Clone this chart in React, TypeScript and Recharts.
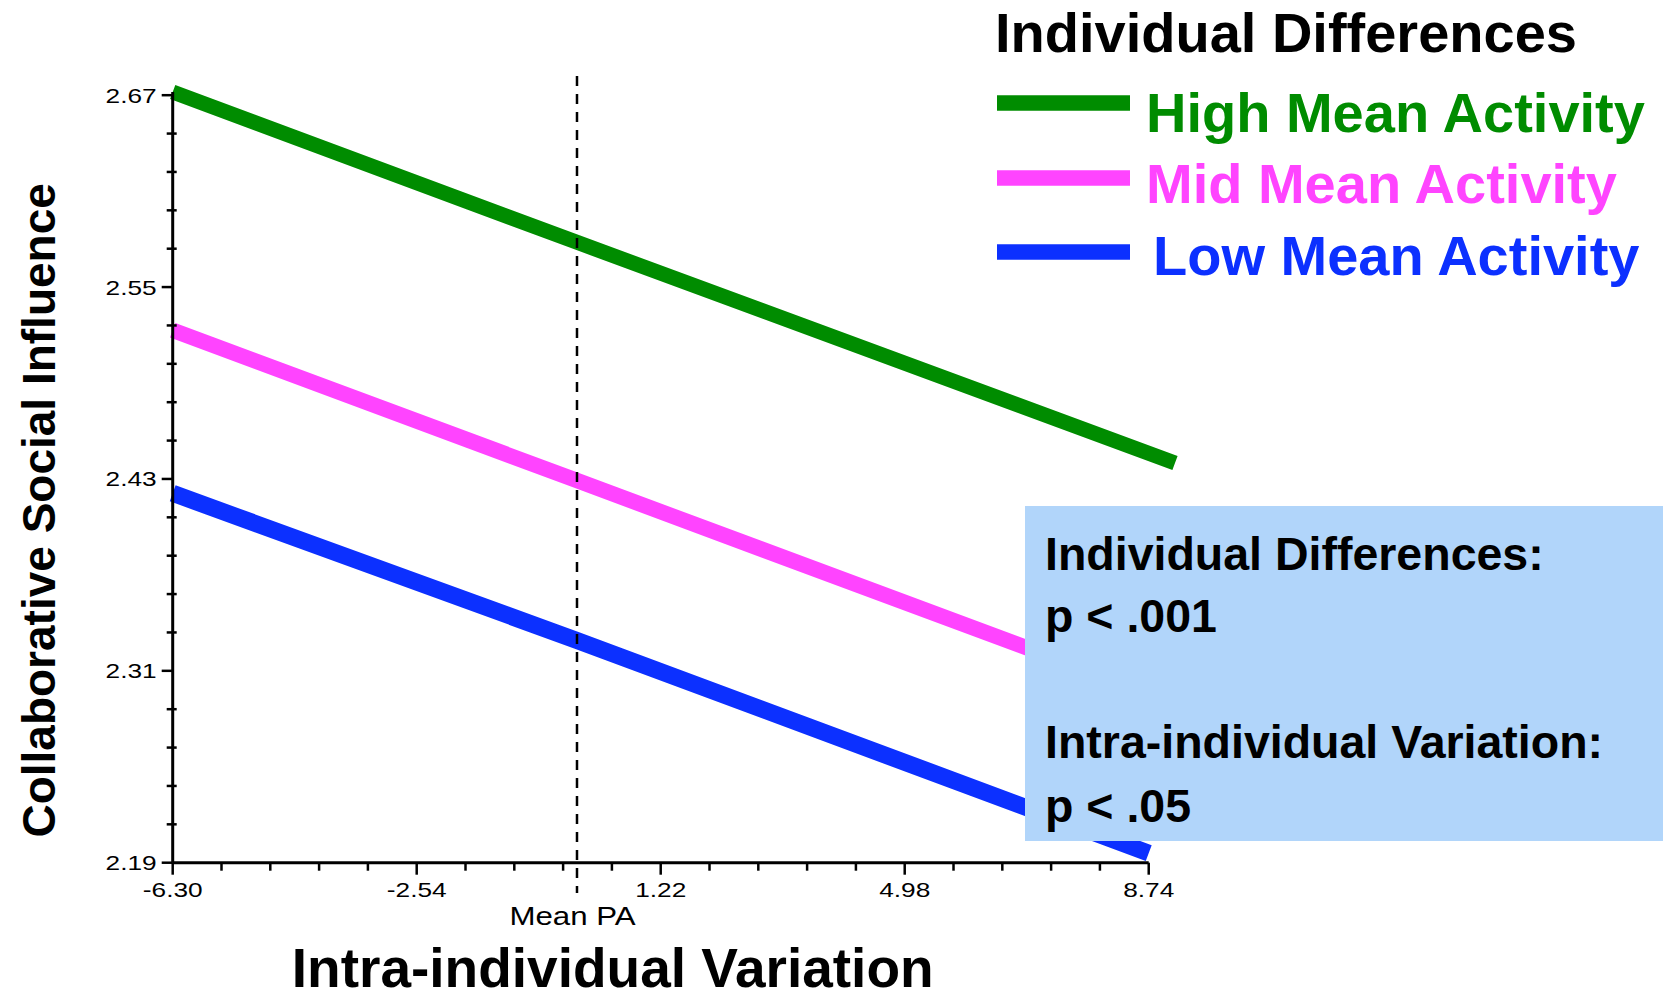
import React from "react";
import { LineChart, Line, XAxis, YAxis, ReferenceLine, Legend } from "recharts";

const FONT = "'Liberation Sans', Arial, Helvetica, sans-serif";

// axis ticks
const X_MAJOR = [-6.3, -2.54, 1.22, 4.98, 8.74];
const X_MINOR = [-5.548, -4.796, -4.044, -3.292, -1.788, -1.036, -0.284, 0.468, 1.972, 2.724, 3.476, 4.228, 5.732, 6.484, 7.236, 7.988];
const Y_MAJOR = [2.19, 2.31, 2.43, 2.55, 2.67];
const Y_MINOR = [2.214, 2.238, 2.262, 2.286, 2.334, 2.358, 2.382, 2.406, 2.454, 2.478, 2.502, 2.526, 2.574, 2.598, 2.622, 2.646];

const X_MIN = -6.3;
const X_AXIS_END = 8.74;
const X_MAX = 9.145; // high line runs past the axis end
const Y_MIN = 2.19;
const Y_MAX = 2.67;

const MEAN_PA = -0.07;
const DASH_TOP = 2.682;
const DASH_BOTTOM = 2.171;

// series
const HIGH_X = [-6.3, -0.07, 9.145];
const HIGH_Y = [2.672, 2.578, 2.44];
const MID_X = [-6.3, -0.07, 8.74];
const MID_Y = [2.523, 2.429, 2.296];
const LOW_X = [-6.3, -0.07, 8.74];
const LOW_Y = [2.421, 2.329, 2.196];

const toPoints = (xs: number[], ys: number[]) => xs.map((x, i) => ({ x, y: ys[i] }));

const SERIES = [
  { name: "High Mean Activity", color: "#008c00", width: 15, data: toPoints(HIGH_X, HIGH_Y) },
  { name: "Mid Mean Activity", color: "#ff44ff", width: 15.5, data: toPoints(MID_X, MID_Y) },
  { name: "Low Mean Activity", color: "#0c30ff", width: 17, data: toPoints(LOW_X, LOW_Y) },
];

const isIn = (list: number[], v: number) => list.some((t) => Math.abs(t - v) < 1e-6);

function XTick(props: any) {
  const { x, y, payload } = props;
  if (isIn(X_MAJOR, payload.value)) {
    return (
      <g>
        <line x1={x} x2={x} y1={y} y2={y + 12} stroke="#000" strokeWidth={2.5} />
        <text transform={`translate(${x},${y + 34}) scale(1.25,1)`} textAnchor="middle" fontSize={21} fontFamily={FONT} fill="#000">
          {payload.value.toFixed(2)}
        </text>
      </g>
    );
  }
  return <line x1={x} x2={x} y1={y} y2={y + 8} stroke="#000" strokeWidth={2.5} />;
}

function YTick(props: any) {
  const { x, y, payload } = props;
  if (isIn(Y_MAJOR, payload.value)) {
    return (
      <g>
        <line x1={x - 11} x2={x} y1={y} y2={y} stroke="#000" strokeWidth={2.5} />
        <text transform={`translate(${x - 16},${y + 7.5}) scale(1.25,1)`} textAnchor="end" fontSize={21} fontFamily={FONT} fill="#000">
          {payload.value.toFixed(2)}
        </text>
      </g>
    );
  }
  return <line x1={x - 6} x2={x + 4} y1={y} y2={y} stroke="#000" strokeWidth={2.5} />;
}

function YTitle(props: any) {
  const { viewBox } = props;
  const cx = 55;
  const cy = viewBox.y + viewBox.height / 2 + 33;
  return (
    <text x={cx} y={cy} transform={`rotate(-90,${cx},${cy})`} textAnchor="middle" fontSize={46} fontWeight="bold" fontFamily={FONT} fill="#000">
      Collaborative Social Influence
    </text>
  );
}

function XTitle(props: any) {
  const { viewBox } = props;
  return (
    <text x={viewBox.x + 440} y={viewBox.y + 124} textAnchor="middle" fontSize={55} fontWeight="bold" fontFamily={FONT} fill="#000">
      Intra-individual Variation
    </text>
  );
}

function MeanLabel(props: any) {
  const { viewBox } = props;
  const x = viewBox.x - 4.5;
  const y = viewBox.y + viewBox.height + 32;
  return (
    <text transform={`translate(${x},${y}) scale(1.25,1)`} textAnchor="middle" fontSize={25} fontFamily={FONT} fill="#000">
      Mean PA
    </text>
  );
}

const LEGEND_LINE_Y = [103, 178, 252];
const LEGEND_TEXT_Y = [131.5, 202.5, 275];
const LEGEND_TEXT_X = [1146, 1146, 1153];

function LegendBlock(props: any) {
  const payload = props.payload || [];
  return (
    <svg width={1663} height={300} style={{ display: "block" }}>
      <text x={995} y={52} fontSize={56} fontWeight="bold" fontFamily={FONT} fill="#000">
        Individual Differences
      </text>
      {SERIES.map((s, i) => {
        const entry = payload.find((p: any) => p.value === s.name);
        const color = entry ? entry.color : s.color;
        return (
          <g key={s.name}>
            <line x1={997} x2={1130} y1={LEGEND_LINE_Y[i]} y2={LEGEND_LINE_Y[i]} stroke={color} strokeWidth={15.5} />
            <text x={LEGEND_TEXT_X[i]} y={LEGEND_TEXT_Y[i]} fontSize={56} fontWeight="bold" fontFamily={FONT} fill={color}>
              {entry ? entry.value : s.name}
            </text>
          </g>
        );
      })}
    </svg>
  );
}

export default function App() {
  return (
    <div style={{ position: "absolute", left: 0, top: 0, width: 1663, height: 1000, background: "#fff" }}>
      <LineChart width={1663} height={1000} margin={{ top: 92, right: 488, bottom: 0, left: 0 }}>
        <XAxis
          dataKey="x"
          type="number"
          domain={[X_MIN, X_MAX]}
          ticks={[...X_MAJOR, ...X_MINOR].sort((a, b) => a - b)}
          interval={0}
          height={137.3}
          axisLine={false}
          tickLine={false}
          tickSize={0}
          tickMargin={0}
          tick={(p: any) => <XTick {...p} />}
          label={(p: any) => <XTitle {...p} />}
        />
        <YAxis
          type="number"
          domain={[Y_MIN, Y_MAX]}
          ticks={[...Y_MAJOR, ...Y_MINOR].sort((a, b) => a - b)}
          interval={0}
          width={172.7}
          axisLine={{ stroke: "#000", strokeWidth: 3 }}
          tickLine={false}
          tickSize={0}
          tickMargin={0}
          tick={(p: any) => <YTick {...p} />}
          label={(p: any) => <YTitle {...p} />}
        />
        {SERIES.map((s) => (
          <Line
            key={s.name}
            data={s.data}
            dataKey="y"
            name={s.name}
            type="linear"
            stroke={s.color}
            strokeWidth={s.width}
            strokeLinecap="butt"
            dot={false}
            activeDot={false}
            isAnimationActive={false}
          />
        ))}
        <ReferenceLine
          segment={[{ x: X_MIN, y: Y_MIN }, { x: X_AXIS_END, y: Y_MIN }]}
          stroke="#000"
          strokeWidth={3}
          ifOverflow="visible"
        />
        <ReferenceLine
          segment={[{ x: MEAN_PA, y: DASH_TOP }, { x: MEAN_PA, y: DASH_BOTTOM }]}
          stroke="#000"
          strokeWidth={2.5}
          strokeDasharray="10 8"
          ifOverflow="visible"
          label={(p: any) => <MeanLabel {...p} />}
        />
        <Legend
          layout="horizontal"
          verticalAlign="middle"
          align="center"
          wrapperStyle={{ position: "absolute", left: 0, top: 0, width: 1663, height: 300 }}
          content={(p: any) => <LegendBlock {...p} />}
        />
      </LineChart>
      <div style={{ position: "absolute", left: 1025, top: 506, width: 638, height: 335, background: "#b1d5fa" }}>
        <svg width={638} height={335} style={{ display: "block" }}>
          <text x={20} y={64} fontSize={46.5} fontWeight="bold" fontFamily={FONT} fill="#000">Individual Differences:</text>
          <text x={20} y={126} fontSize={46.5} fontWeight="bold" fontFamily={FONT} fill="#000">{"p < .001"}</text>
          <text x={20} y={252} fontSize={46.5} fontWeight="bold" fontFamily={FONT} fill="#000">Intra-individual Variation:</text>
          <text x={20} y={316} fontSize={46.5} fontWeight="bold" fontFamily={FONT} fill="#000">{"p < .05"}</text>
        </svg>
      </div>
    </div>
  );
}
